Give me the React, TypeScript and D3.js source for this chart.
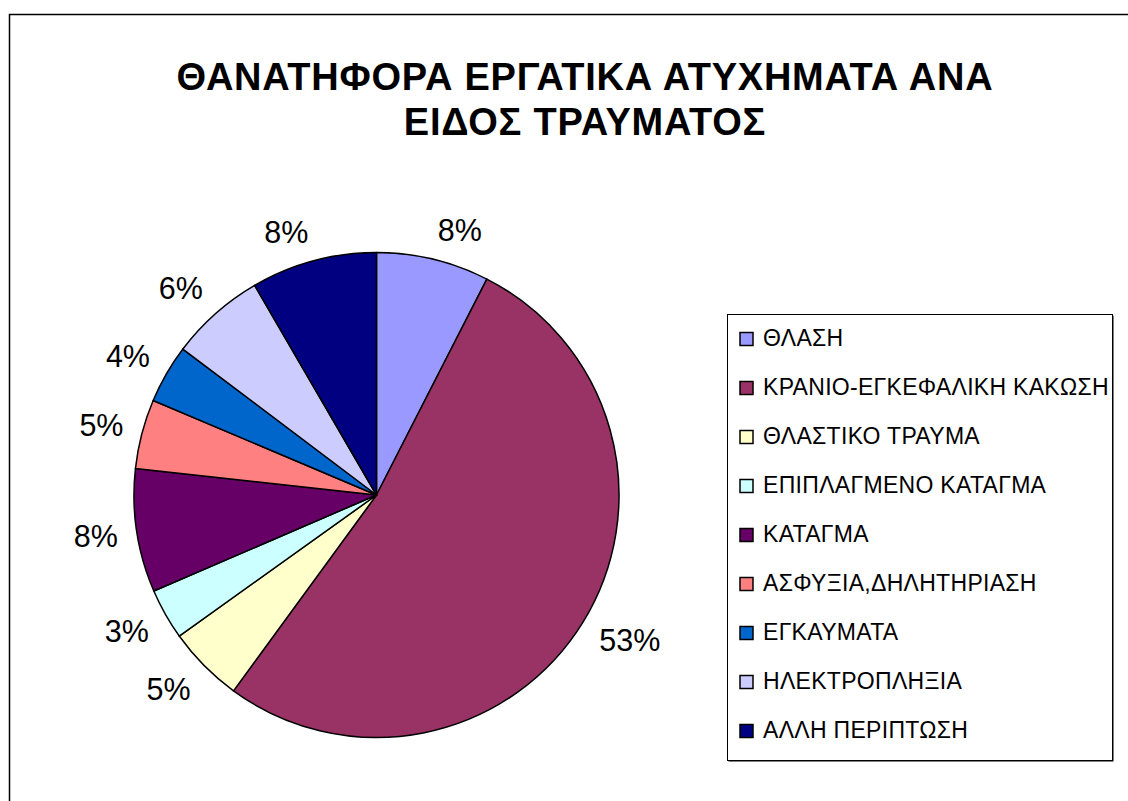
import React, { useEffect, useRef } from 'react';
import * as d3 from 'd3';

// share of fatal work accidents per type of injury (%)
const categories = [
  'ΘΛΑΣΗ',
  'ΚΡΑΝΙΟ-ΕΓΚΕΦΑΛΙΚΗ ΚΑΚΩΣΗ',
  'ΘΛΑΣΤΙΚΟ ΤΡΑΥΜΑ',
  'ΕΠΙΠΛΑΓΜΕΝΟ ΚΑΤΑΓΜΑ',
  'ΚΑΤΑΓΜΑ',
  'ΑΣΦΥΞΙΑ,ΔΗΛΗΤΗΡΙΑΣΗ',
  'ΕΓΚΑΥΜΑΤΑ',
  'ΗΛΕΚΤΡΟΠΛΗΞΙΑ',
  'ΑΛΛΗ ΠΕΡΙΠΤΩΣΗ',
];
const shares = [7.52, 52.52, 5.08, 3.4, 8.23, 4.62, 3.91, 6.34, 8.38];
const colors = [
  '#9999ff',
  '#993366',
  '#ffffcc',
  '#ccffff',
  '#660066',
  '#ff8080',
  '#0066cc',
  '#ccccff',
  '#000080',
];
const titleLines = ['ΘΑΝΑΤΗΦΟΡΑ ΕΡΓΑΤΙΚΑ ΑΤΥΧΗΜΑΤΑ ΑΝΑ', 'ΕΙΔΟΣ ΤΡΑΥΜΑΤΟΣ'];

const font = '"Liberation Sans", Arial, sans-serif';

export default function App() {
  const ref = useRef<SVGSVGElement>(null);

  useEffect(() => {
    const width = 1128;
    const height = 801;
    const cx = 376.5;
    const cy = 495;
    const radius = 242.5;

    const svg = d3.select(ref.current);
    svg.selectAll('*').remove();

    svg.append('rect').attr('width', width).attr('height', height).attr('fill', '#fff');

    // chart area frame (runs off the right and bottom edges)
    svg
      .append('rect')
      .attr('x', 9.5)
      .attr('y', 14.5)
      .attr('width', width)
      .attr('height', height)
      .attr('fill', 'none')
      .attr('stroke', '#000')
      .attr('stroke-width', 1.5);

    svg
      .append('g')
      .attr('font-family', font)
      .attr('font-weight', 'bold')
      .attr('font-size', 38)
      .attr('letter-spacing', 0.75)
      .attr('text-anchor', 'middle')
      .selectAll('text')
      .data(titleLines)
      .join('text')
      .attr('x', 585)
      .attr('y', (d, i) => 89.5 + i * 45.5)
      .text((d) => d);

    const total = d3.sum(shares);
    const pie = d3
      .pie<number>()
      .sort(null)
      .value((d) => d);
    const arcs = pie(shares);
    const arc = d3.arc<d3.PieArcDatum<number>>().innerRadius(0).outerRadius(radius);

    const g = svg.append('g').attr('transform', `translate(${cx},${cy})`);
    g.selectAll('path')
      .data(arcs)
      .join('path')
      .attr('d', arc)
      .attr('fill', (d, i) => colors[i])
      .attr('stroke', '#000')
      .attr('stroke-width', 1.5)
      .attr('stroke-linejoin', 'round');

    // labels sit just outside the rim, box corner facing the pie
    const labelR = radius + 19;
    const capH = 21;
    const mid = (d: d3.PieArcDatum<number>) => (d.startAngle + d.endAngle) / 2;
    g.selectAll('text')
      .data(arcs)
      .join('text')
      .attr('font-family', font)
      .attr('font-size', 30.5)
      .attr('text-anchor', (d) => (Math.sin(mid(d)) >= 0 ? 'start' : 'end'))
      .attr('x', (d) => labelR * Math.sin(mid(d)))
      .attr('y', (d) => {
        const a = mid(d);
        const k = Math.max(-1, Math.min(1, Math.cos(a) * 1.5));
        return -labelR * Math.cos(a) - (capH / 2) * k + capH / 2;
      })
      .text((d) => `${Math.round((d.value / total) * 100)}%`);

    // legend
    const legend = svg.append('g');
    legend
      .append('rect')
      .attr('x', 728.5)
      .attr('y', 315.5)
      .attr('width', 385)
      .attr('height', 446)
      .attr('fill', '#000');
    legend
      .append('rect')
      .attr('x', 727.5)
      .attr('y', 314.5)
      .attr('width', 385)
      .attr('height', 446)
      .attr('fill', '#fff')
      .attr('stroke', '#000')
      .attr('stroke-width', 1);

    const rows = legend
      .selectAll('g.row')
      .data(categories)
      .join('g')
      .attr('class', 'row')
      .attr('transform', (d, i) => `translate(0,${346 + i * 49})`);
    rows
      .append('rect')
      .attr('x', 740)
      .attr('y', -13.5)
      .attr('width', 13)
      .attr('height', 13)
      .attr('fill', (d, i) => colors[i])
      .attr('stroke', '#000')
      .attr('stroke-width', 1.5);
    rows
      .append('text')
      .attr('x', 763)
      .attr('font-family', font)
      .attr('font-size', 23)
      .attr('letter-spacing', 0.3)
      .text((d) => d);
  }, []);

  return (
    <div style={{ position: 'absolute', left: 0, top: 0 }}>
      <svg ref={ref} width={1128} height={801} style={{ display: 'block' }} />
    </div>
  );
}
